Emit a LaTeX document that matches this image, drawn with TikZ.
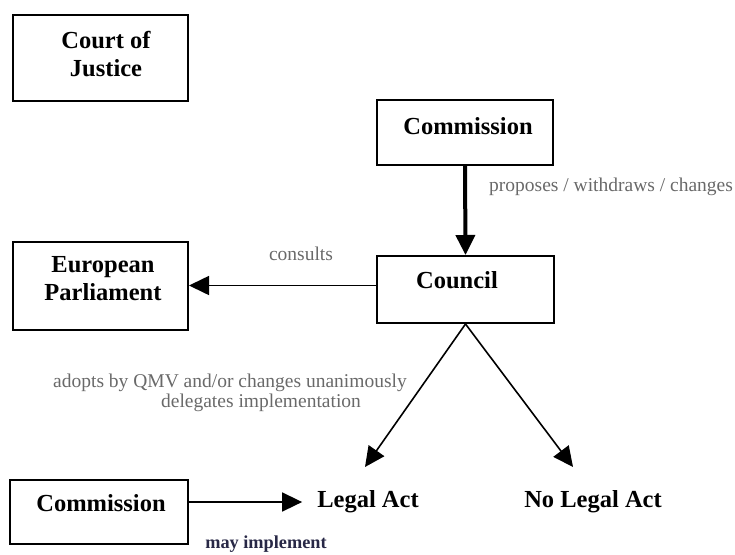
\documentclass[tikz,border=0pt]{standalone}
\usepackage{fontspec}
\setmainfont{Liberation Serif}
\usetikzlibrary{arrows.meta}
\definecolor{notegray}{RGB}{105,105,105}
\definecolor{implnavy}{RGB}{40,40,70}
\tikzset{
	box/.style={draw=black, line width=2pt, inner sep=0pt},
	title/.style={font=\fontsize{24.5}{28}\selectfont\bfseries, align=center, inner sep=0pt},
	note/.style={font=\fontsize{19.5}{23}\selectfont, text=notegray, inner sep=0pt},
	link/.style={draw=black, line width=1.6pt, -{Triangle[length=20pt, width=19pt]}},
}
\begin{document}
\begin{tikzpicture}[x=1pt, y=-1pt]
	\useasboundingbox (0,0) rectangle (735,554);
	% boxes
	\node[box, minimum width=175pt, minimum height=86pt] (court) at (100.5,58.0) {};
	\node[box, minimum width=176pt, minimum height=65pt] (comm) at (465.0,132.5) {};
	\node[box, minimum width=177pt, minimum height=67pt] (council) at (465.5,289.5) {};
	\node[box, minimum width=175pt, minimum height=88pt] (parl) at (100.5,286.0) {};
	\node[box, minimum width=178pt, minimum height=64pt] (commb) at (99.0,512.0) {};
	% box texts
	\node[title] (courttext) at (106,54) {Court of\\Justice};
	\node[title] (commtext) at (468,126) {Commission};
	\node[title] (counciltext) at (457,280) {Council};
	\node[title] (parltext) at (103,279) {European\\Parliament};
	\node[title] (commbtext) at (101,503) {Commission};
	\node[title] (legal) at (368,502) {Legal Act};
	\node[title] (nolegal) at (593,502) {No Legal Act};
	% free ends
	\coordinate (adoptend) at (365,467);
	\coordinate (noend) at (573,467);
	% connectors
	\draw[link, line width=4pt] (comm.south) -- (council.north);
	\draw[link] ([yshift=4pt]council.west) -- ([yshift=4pt]council.west -| parl.east);
	\draw[link] (council.south) -- (adoptend);
	\draw[link] (council.south) -- (noend);
	\draw[link] (legal.west -| commb.east) -- ([xshift=-15pt]legal.west);
	% labels
	\node[note, anchor=west] (proposes) at (489,187) {proposes / withdraws / changes};
	\node[note] (consults) at (301,254) {consults};
	\node[note] (adopts) at (230,383) {adopts by QMV and/or changes unanimously};
	\node[note] (delegates) at (261,403) {delegates implementation};
	\node[inner sep=0pt, text=implnavy, font=\fontsize{18.3}{21}\selectfont\bfseries] (mayimpl) at (266,544) {may implement};
\end{tikzpicture}
\end{document}
